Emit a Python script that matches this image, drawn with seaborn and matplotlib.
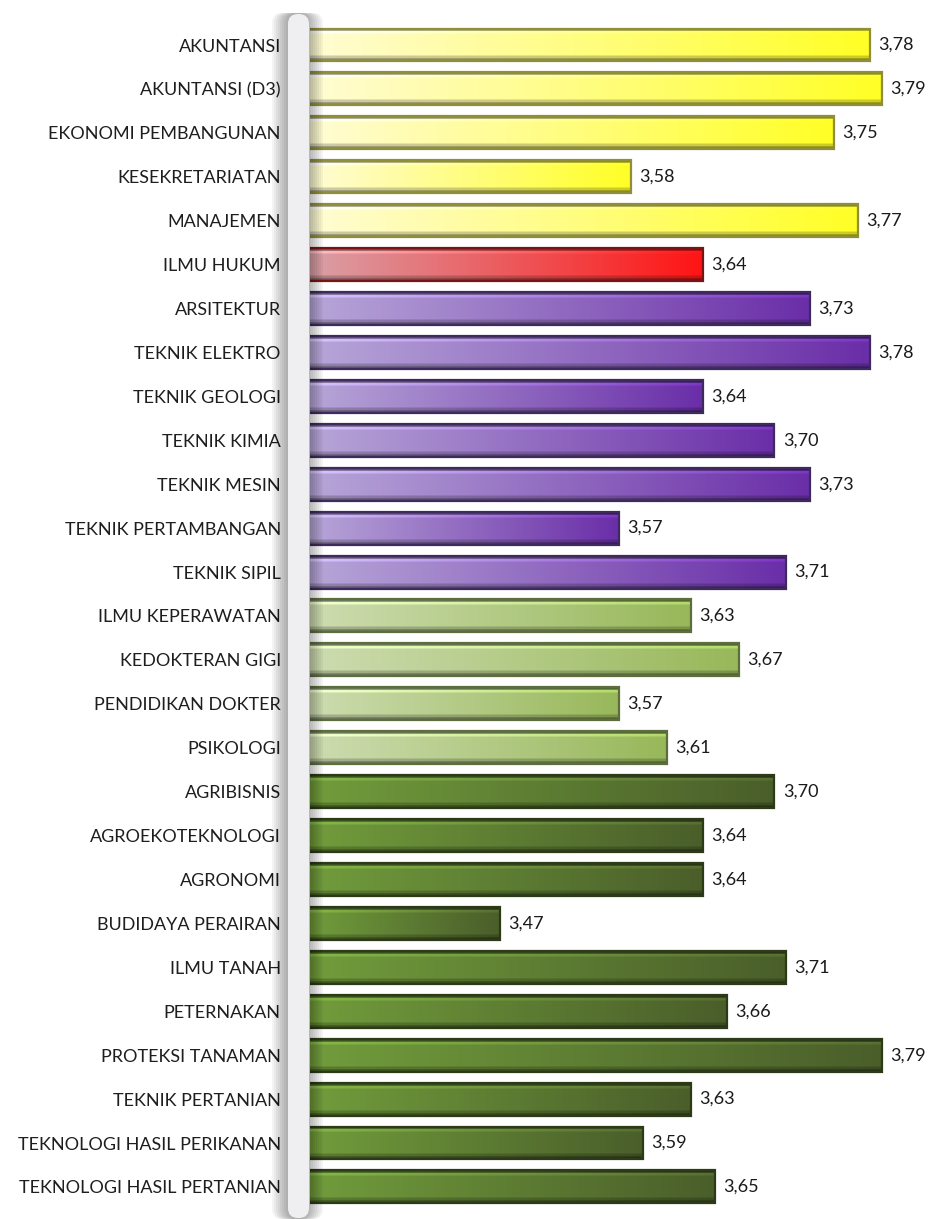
import numpy as np
import pandas as pd
import seaborn as sns
import matplotlib.pyplot as plt
from matplotlib.colors import to_rgb
from matplotlib.patches import FancyBboxPatch
from matplotlib.transforms import IdentityTransform

# Data
programs = [
    'AKUNTANSI', 'AKUNTANSI (D3)', 'EKONOMI PEMBANGUNAN', 'KESEKRETARIATAN', 'MANAJEMEN',
    'ILMU HUKUM',
    'ARSITEKTUR', 'TEKNIK ELEKTRO', 'TEKNIK GEOLOGI', 'TEKNIK KIMIA', 'TEKNIK MESIN',
    'TEKNIK PERTAMBANGAN', 'TEKNIK SIPIL',
    'ILMU KEPERAWATAN', 'KEDOKTERAN GIGI', 'PENDIDIKAN DOKTER', 'PSIKOLOGI',
    'AGRIBISNIS', 'AGROEKOTEKNOLOGI', 'AGRONOMI', 'BUDIDAYA PERAIRAN', 'ILMU TANAH',
    'PETERNAKAN', 'PROTEKSI TANAMAN', 'TEKNIK PERTANIAN', 'TEKNOLOGI HASIL PERIKANAN',
    'TEKNOLOGI HASIL PERTANIAN',
]
ipk = [3.78, 3.79, 3.75, 3.58, 3.77,
       3.64,
       3.73, 3.78, 3.64, 3.70, 3.73, 3.57, 3.71,
       3.63, 3.67, 3.57, 3.61,
       3.70, 3.64, 3.64, 3.47, 3.71, 3.66, 3.79, 3.63, 3.59, 3.65]
group = (['ekonomi'] * 5 + ['hukum'] + ['teknik'] * 7 + ['kedokteran'] * 4 + ['pertanian'] * 10)

# left colour, right colour, edge colour per group
group_style = {
    'ekonomi': ('#fffcd4', '#ffff26', '#8f8f3a'),
    'hukum': ('#d9a0a6', '#ff1414', '#7a1414'),
    'teknik': ('#b7a6d8', '#6a2ea8', '#3e2b5e'),
    'kedokteran': ('#cddcb0', '#98b85a', '#5c6e3e'),
    'pertanian': ('#719c3c', '#4a5e2a', '#2c3a18'),
}

df = pd.DataFrame({'program': programs, 'ipk': ipk, 'group': group})

sns.set_theme(style='white')
plt.rcParams['font.family'] = ['Lato', 'DejaVu Sans']

fig = plt.figure(figsize=(9.36, 12.19), dpi=100)
ax = fig.add_axes([310 / 936, 0, 626 / 936, 1])

sns.barplot(data=df, x='ipk', y='program', orient='h', color='#cccccc', width=0.75, ax=ax)

x0_lim = 3.311
x1_lim = x0_lim + 626 / 1193.75


def bar_image(left, right):
    lc = np.array(to_rgb(left))
    rc = np.array(to_rgb(right))
    t = np.linspace(0, 1, 256)[None, :, None]
    base = lc + (rc - lc) * t
    rows = 24
    prof = np.ones(rows)
    prof[:2] = 0.55
    prof[2:4] = 1.18
    prof[-4:-2] = 0.8
    prof[-2:] = 0.55
    img = base * prof[:, None, None]
    return np.clip(img, 0, 1)


for patch, g in zip(ax.patches, df['group']):
    left, right, edge = group_style[g]
    y = patch.get_y()
    w, h = patch.get_width(), patch.get_height()
    end = patch.get_x() + w
    patch.set_facecolor('none')
    patch.set_edgecolor(edge)
    patch.set_linewidth(1.6)
    patch.set_zorder(3)
    im = ax.imshow(bar_image(left, right), extent=(x0_lim, end, y + h, y),
                   origin='upper', aspect='auto', interpolation='bilinear', zorder=2)
    im.set_clip_path(patch)

ax.bar_label(ax.containers[0], labels=[f'{v:.2f}'.replace('.', ',') for v in ipk],
             padding=6, fontsize=13, color='#1a1a1a')

ax.set_xlim(x0_lim, x1_lim)
ax.set_ylim(len(programs) - 1 + (1219 - 45 - 26 * 43.92) / 43.92, -45 / 43.92)
ax.set_xlabel('')
ax.set_ylabel('')
ax.set_xticks([])
ax.tick_params(axis='y', length=0, pad=21, labelsize=13, labelcolor='#1e1e1e')
sns.despine(ax=ax, left=True, bottom=True)

# grey pillar with soft shadow (pixel coordinates, origin bottom-left)
H = 1219
p_left, p_right, p_top, p_bottom = 288, 309, 14, 1218
for k in range(16, 0, -2):
    sh = FancyBboxPatch((p_left - k, H - p_bottom - 1), (p_right - p_left) + 2 * k - 2,
                        (p_bottom - p_top) + 2,
                        boxstyle='round,pad=0,rounding_size=10', transform=IdentityTransform(),
                        facecolor='black', edgecolor='none', alpha=0.045, zorder=5)
    fig.patches.append(sh)
pillar = FancyBboxPatch((p_left, H - p_bottom), p_right - p_left, p_bottom - p_top,
                        boxstyle='round,pad=0,rounding_size=10', transform=IdentityTransform(),
                        facecolor='#efeff1', edgecolor='none', zorder=6)
fig.patches.append(pillar)

fig.savefig('out.png', dpi=100)
